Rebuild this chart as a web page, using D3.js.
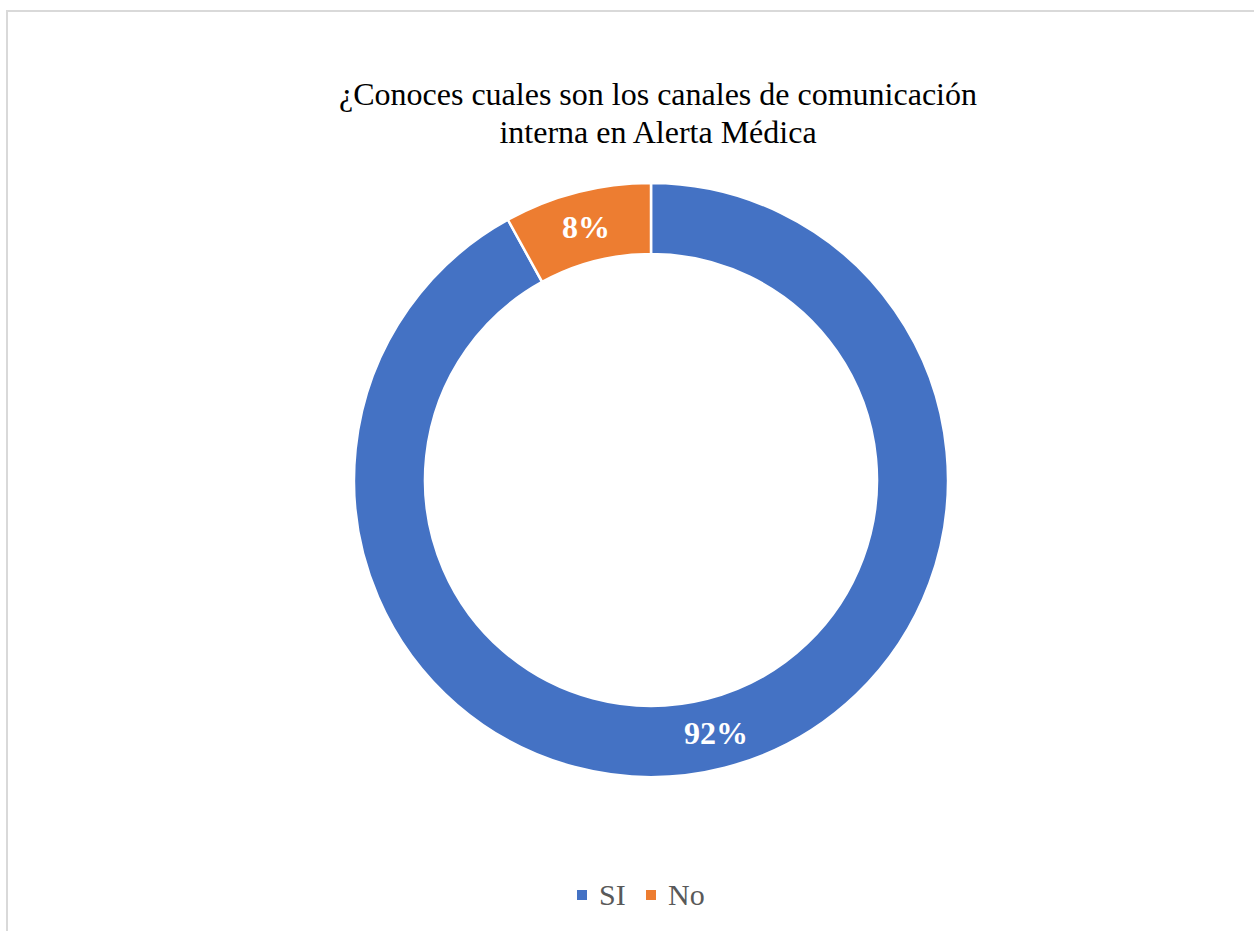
<!DOCTYPE html>
<html>
<head>
<meta charset="utf-8">
<script src="https://cdn.jsdelivr.net/npm/d3@7"></script>
<style>
  html, body { margin: 0; padding: 0; background: #fff; }
  svg { display: block; }
</style>
</head>
<body>
<svg id="chart" width="1254" height="931"></svg>
<script>
// Survey answers and their share of responses
const categories = ["SI", "No"];
const values = [92, 8];
const colors = ["#4472C4", "#ED7D31"];
const titleLines = ["¿Conoces cuales son los canales de comunicación", "interna en Alerta Médica"];

const svg = d3.select("#chart");
const W = 1254, H = 931;
const cx = 651, cy = 480;
const outerR = 297, innerR = 226;
const serif = "'Liberation Serif', 'Times New Roman', serif";

// Chart area frame
svg.append("rect")
  .attr("x", 7).attr("y", 11)
  .attr("width", W + 20).attr("height", H + 20)
  .attr("fill", "#fff")
  .attr("stroke", "#d9d9d9")
  .attr("stroke-width", 2);

// Title
svg.append("text")
  .attr("text-anchor", "middle")
  .attr("font-family", serif)
  .attr("font-size", 32)
  .attr("fill", "#000")
  .selectAll("tspan")
  .data(titleLines)
  .join("tspan")
  .attr("x", 658)
  .attr("y", (d, i) => 105 + i * 38)
  .text(d => d);

// Donut
const color = d3.scaleOrdinal().domain(categories).range(colors);
const pie = d3.pie().value(d => d.value).sort(null);
const arcs = pie(categories.map((c, i) => ({ cat: c, value: values[i] })));
const arc = d3.arc().innerRadius(innerR).outerRadius(outerR);
const labelArc = d3.arc().innerRadius((innerR + outerR) / 2).outerRadius((innerR + outerR) / 2);

const g = svg.append("g").attr("transform", `translate(${cx},${cy})`);
g.selectAll("path")
  .data(arcs)
  .join("path")
  .attr("d", arc)
  .attr("fill", d => color(d.data.cat))
  .attr("stroke", "#fff")
  .attr("stroke-width", 2.5);

g.selectAll("text.val")
  .data(arcs)
  .join("text")
  .attr("class", "val")
  .attr("transform", d => `translate(${labelArc.centroid(d)})`)
  .attr("text-anchor", "middle")
  .attr("dy", "0.35em")
  .attr("font-family", serif)
  .attr("font-weight", "bold")
  .attr("font-size", 32)
  .attr("fill", "#fff")
  .text(d => d.data.value + "%");

// Legend
const legendItems = [
  { cat: "SI", x: 577 },
  { cat: "No", x: 646 }
];
const lg = svg.append("g");
legendItems.forEach(item => {
  lg.append("rect")
    .attr("x", item.x).attr("y", 890)
    .attr("width", 10).attr("height", 10)
    .attr("fill", color(item.cat));
  lg.append("text")
    .attr("x", item.x + 22).attr("y", 905)
    .attr("font-family", serif)
    .attr("font-size", 30)
    .attr("fill", "#595959")
    .text(item.cat);
});
</script>
</body>
</html>
